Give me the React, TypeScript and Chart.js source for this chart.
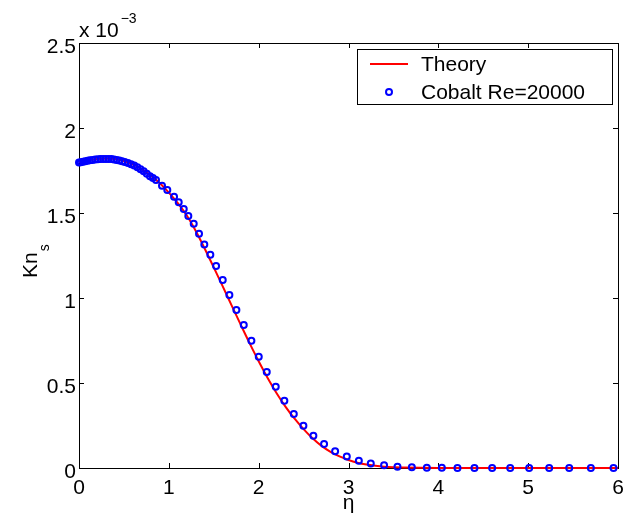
import React, { useEffect, useRef } from "react";
import { Chart, registerables } from "chart.js";

Chart.register(...registerables);

// values of Kn_s are in units of 10^-3
const Y_EXPONENT = -3;

const ETA_THEORY = [0, 0.1, 0.2, 0.3, 0.4, 0.5, 0.6, 0.7, 0.8, 0.9, 1.0, 1.1, 1.2, 1.3, 1.4, 1.5, 1.6, 1.7, 1.8, 1.9, 2.0, 2.1, 2.2, 2.3, 2.4, 2.5, 2.6, 2.7, 2.8, 2.9, 3.0, 3.1, 3.2, 3.3, 3.4, 3.5, 3.6, 3.8, 4.0, 5.0, 6.0];
const KN_THEORY = [1.8, 1.81, 1.817, 1.82, 1.817, 1.806, 1.786, 1.757, 1.72, 1.675, 1.62, 1.558, 1.485, 1.394, 1.29, 1.18, 1.068, 0.955, 0.843, 0.733, 0.628, 0.53, 0.44, 0.36, 0.29, 0.229, 0.175, 0.13, 0.095, 0.068, 0.047, 0.031, 0.02, 0.013, 0.008, 0.005, 0.003, 0.001, 0, 0, 0];

const ETA_COBALT = [0, 0.02, 0.045, 0.07, 0.095, 0.12, 0.15, 0.18, 0.21, 0.24, 0.27, 0.3, 0.33, 0.36, 0.39, 0.42, 0.45, 0.48, 0.51, 0.545, 0.58, 0.615, 0.65, 0.685, 0.72, 0.755, 0.79, 0.823, 0.857, 0.924, 0.983, 1.058, 1.11, 1.166, 1.217, 1.277, 1.336, 1.395, 1.462, 1.526, 1.6, 1.674, 1.752, 1.834, 1.919, 2.001, 2.09, 2.19, 2.286, 2.391, 2.498, 2.609, 2.728, 2.851, 2.981, 3.115, 3.248, 3.396, 3.545, 3.705, 3.872, 4.039, 4.213, 4.402, 4.599, 4.8, 5.011, 5.234, 5.457, 5.698, 5.95];
const KN_COBALT = [1.797, 1.799, 1.802, 1.805, 1.808, 1.81, 1.812, 1.814, 1.816, 1.817, 1.818, 1.818, 1.818, 1.817, 1.815, 1.812, 1.809, 1.805, 1.8, 1.794, 1.787, 1.779, 1.769, 1.758, 1.745, 1.731, 1.716, 1.706, 1.694, 1.661, 1.635, 1.596, 1.563, 1.524, 1.482, 1.437, 1.378, 1.314, 1.255, 1.188, 1.106, 1.018, 0.929, 0.841, 0.749, 0.655, 0.565, 0.478, 0.396, 0.318, 0.249, 0.19, 0.141, 0.098, 0.067, 0.043, 0.027, 0.016, 0.008, 0.004, 0.002, 0.001, 0, 0, 0, 0, 0, 0, 0, 0, 0];

const X_TICKS = [0, 1, 2, 3, 4, 5, 6];
const X_TICK_LABELS = ["0", "1", "2", "3", "4", "5", "6"];
const Y_TICKS = [0, 0.5, 1, 1.5, 2, 2.5];
const Y_TICK_LABELS = ["0", "0.5", "1", "1.5", "2", "2.5"];

const SERIES_LABELS = ["Theory", "Cobalt Re=20000"];
const X_LABEL = "η";
const Y_LABEL_MAIN = "Kn";
const Y_LABEL_SUB = "s";

const FONT = '"Liberation Sans", Arial, Helvetica, sans-serif';
const RED = "#ff0000";
const BLUE = "#0000ff";
const MARKER_R = 3;
const MARKER_W = 2;

const matlabPlugin = {
  id: "matlabAxes",
  beforeDatasetsDraw(chart: any) {
    const { ctx, chartArea, scales } = chart;
    const { left, right, top, bottom } = chartArea;
    const x = scales.x;
    const y = scales.y;
    ctx.save();
    ctx.strokeStyle = "#000";
    ctx.lineWidth = 1;
    ctx.strokeRect(left + 0.5, top + 0.5, right - left, bottom - top);
    const tl = 5;
    ctx.beginPath();
    X_TICKS.forEach((v) => {
      const px = Math.round(x.getPixelForValue(v)) + 0.5;
      ctx.moveTo(px, bottom);
      ctx.lineTo(px, bottom - tl);
      ctx.moveTo(px, top);
      ctx.lineTo(px, top + tl);
    });
    Y_TICKS.forEach((v) => {
      const py = Math.round(y.getPixelForValue(v)) + 0.5;
      ctx.moveTo(left, py);
      ctx.lineTo(left + tl, py);
      ctx.moveTo(right, py);
      ctx.lineTo(right - tl, py);
    });
    ctx.stroke();

    ctx.fillStyle = "#000";
    ctx.font = `21px ${FONT}`;
    ctx.textBaseline = "alphabetic";
    ctx.textAlign = "center";
    X_TICKS.forEach((v, i) => {
      ctx.fillText(X_TICK_LABELS[i], x.getPixelForValue(v), bottom + 26);
    });
    ctx.textAlign = "right";
    Y_TICKS.forEach((v, i) => {
      ctx.fillText(Y_TICK_LABELS[i], left - 3, y.getPixelForValue(v) + 9.5);
    });

    // exponent label
    ctx.textAlign = "left";
    ctx.fillText("x 10", left, top - 6);
    const w10 = ctx.measureText("x 10").width;
    ctx.font = `14px ${FONT}`;
    ctx.fillText("\u2212" + String(-Y_EXPONENT), left + w10 + 2, top - 20);

    // x label
    ctx.font = `21px ${FONT}`;
    ctx.textAlign = "center";
    ctx.fillText(X_LABEL, (left + right) / 2, bottom + 41);

    // y label rotated
    ctx.save();
    ctx.translate(37, 278);
    ctx.rotate(-Math.PI / 2);
    ctx.textAlign = "left";
    ctx.font = `21px ${FONT}`;
    ctx.fillText(Y_LABEL_MAIN, 0, 0);
    const wKn = ctx.measureText(Y_LABEL_MAIN).width;
    ctx.font = `14px ${FONT}`;
    ctx.fillText(Y_LABEL_SUB, wKn + 1, 12);
    ctx.restore();

    ctx.restore();
  },
  afterDatasetsDraw(chart: any) {
    const { ctx, chartArea } = chart;
    const { right, top } = chartArea;
    ctx.save();
    const bx = right - 261;
    const by = top + 6;
    const bw = 255;
    const bh = 55;
    ctx.fillStyle = "#fff";
    ctx.fillRect(bx + 0.5, by + 0.5, bw, bh);
    ctx.strokeStyle = "#000";
    ctx.lineWidth = 1;
    ctx.strokeRect(bx + 0.5, by + 0.5, bw, bh);
    // theory entry
    ctx.strokeStyle = RED;
    ctx.lineWidth = 2;
    ctx.beginPath();
    ctx.moveTo(bx + 13, by + 15);
    ctx.lineTo(bx + 51, by + 15);
    ctx.stroke();
    // cobalt entry
    ctx.strokeStyle = BLUE;
    ctx.lineWidth = MARKER_W;
    ctx.beginPath();
    ctx.arc(bx + 32, by + 43, MARKER_R, 0, Math.PI * 2);
    ctx.stroke();
    ctx.fillStyle = "#000";
    ctx.font = `21px ${FONT}`;
    ctx.textAlign = "left";
    ctx.textBaseline = "alphabetic";
    ctx.fillText(SERIES_LABELS[0], bx + 64, by + 22);
    ctx.fillText(SERIES_LABELS[1], bx + 64, by + 50);
    ctx.restore();
  },
};

export default function App() {
  const ref = useRef<HTMLCanvasElement | null>(null);
  useEffect(() => {
    document.body.style.margin = "0";
    if (!ref.current) return;
    const chart = new Chart(ref.current, {
      type: "scatter",
      data: {
        datasets: [
          {
            label: SERIES_LABELS[0],
            data: ETA_THEORY.map((e, i) => ({ x: e, y: KN_THEORY[i] })),
            showLine: true,
            borderColor: RED,
            borderWidth: 2,
            pointRadius: 0,
            cubicInterpolationMode: "monotone",
            clip: false,
            order: 1,
          } as any,
          {
            label: SERIES_LABELS[1],
            data: ETA_COBALT.map((e, i) => ({ x: e, y: KN_COBALT[i] })),
            showLine: false,
            pointRadius: MARKER_R,
            pointBorderWidth: MARKER_W,
            pointBorderColor: BLUE,
            pointBackgroundColor: "rgba(0,0,0,0)",
            clip: false,
            order: 0,
          } as any,
        ],
      },
      options: {
        animation: false,
        responsive: false,
        events: [],
        layout: { padding: { left: 79, top: 43, right: 8, bottom: 48 } },
        scales: {
          x: { type: "linear", min: 0, max: 6, display: false },
          y: { type: "linear", min: 0, max: 2.5, display: false },
        },
        plugins: { legend: { display: false }, tooltip: { enabled: false } },
      },
      plugins: [matlabPlugin],
    });
    return () => chart.destroy();
  }, []);
  return (
    <div style={{ position: "absolute", left: 0, top: 0, width: 626, height: 516, background: "#fff" }}>
      <canvas ref={ref} width={626} height={516} style={{ width: 626, height: 516 }} />
    </div>
  );
}
